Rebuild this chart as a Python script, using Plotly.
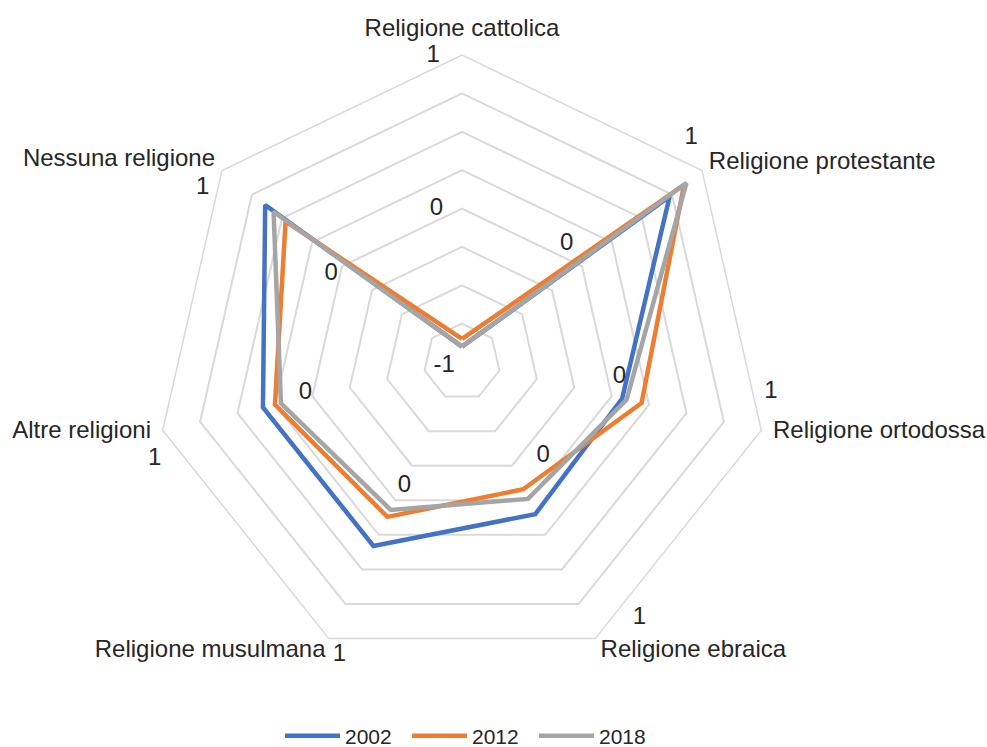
import plotly.graph_objects as go

# ---------------- data ----------------
categories = ["Religione cattolica", "Religione protestante", "Religione ortodossa",
              "Religione ebraica", "Religione musulmana", "Altre religioni", "Nessuna religione"]
years = ["2002", "2012", "2018"]
v2002 = [-0.90, 0.73, 0.07, 0.10, 0.33, 0.33, 0.64]
v2012 = [-0.85, 0.85, 0.20, -0.08, 0.12, 0.25, 0.47]
v2018 = [-0.90, 0.87, 0.10, -0.01, 0.07, 0.21, 0.57]
series = [v2002, v2012, v2018]

axis_min, axis_max, axis_step = -1, 1, 0.25

# value-axis labels as they appear around the web
tick_text = ["1", "0", "-1", "0", "1", "0", "1", "0", "1", "0", "1", "0", "1", "0", "1"]
# label placement (value units along radius, angle clockwise from top in degrees)
tick_r = [1.000, 0.012, -0.88, 0.026, 1.090, 0.030, 1.022, -0.190, 1.030,
          -0.110, 1.068, 0.040, 1.100, 0.027, 1.036]
tick_theta = [-5.4, -9.5, 256.0, 41.7, 45.6, 95.5, 95.6, 139.2, 145.3,
              204.9, 202.7, 258.9, 252.4, 304.0, 303.9]

# category label placement (same units)
cat_r = [1.162, 1.066, 1.077, 1.090, 1.080, 1.077, 1.079]
cat_theta = [0.0, 51.1, 102.7, 154.4, 205.3, 257.3, 309.3]
cat_pos = ["middle center", "middle right", "middle right", "middle right",
           "middle left", "middle left", "middle left"]

# ---------------- style ----------------
colors = ["#4472C4", "#ED7D31", "#A5A5A5"]
grid_color = "#D9D9D9"
text_color = "#262626"
font_family = "Liberation Sans, Arial, sans-serif"

W, H = 987, 747
cx, cy, R = 462, 362, 307          # centre and outer radius of the web (px)
label_max = 1.3                    # extended range for the label layer
R2 = R * (label_max - axis_min) / (axis_max - axis_min)

fig = go.Figure()
for name, vals, col in zip(years, series, colors):
    fig.add_trace(go.Scatterpolar(
        r=vals + vals[:1], theta=categories + categories[:1],
        mode="lines", name=name,
        line=dict(color=col, width=4.5),
        subplot="polar", hoverinfo="skip"))

fig.add_trace(go.Scatterpolar(
    r=tick_r, theta=tick_theta, mode="text", text=tick_text,
    textposition="middle center",
    textfont=dict(size=24, color=text_color, family=font_family),
    showlegend=False, subplot="polar2", hoverinfo="skip", cliponaxis=False))

fig.add_trace(go.Scatterpolar(
    r=cat_r, theta=cat_theta, mode="text", text=categories,
    textposition=cat_pos,
    textfont=dict(size=24, color=text_color, family=font_family),
    showlegend=False, subplot="polar2", hoverinfo="skip", cliponaxis=False))

fig.update_layout(
    width=W, height=H,
    margin=dict(l=0, r=0, t=0, b=0, autoexpand=False),
    paper_bgcolor="white", plot_bgcolor="white",
    font=dict(family=font_family, color=text_color, size=24),
    polar=dict(
        domain=dict(x=[(cx - R) / W, (cx + R) / W], y=[1 - (cy + R) / H, 1 - (cy - R) / H]),
        bgcolor="white",
        gridshape="linear",
        radialaxis=dict(range=[axis_min, axis_max], tick0=axis_min, dtick=axis_step,
                        showticklabels=False, ticks="", showline=False,
                        gridcolor=grid_color, gridwidth=1.5),
        angularaxis=dict(direction="clockwise", rotation=90,
                         categoryorder="array", categoryarray=categories,
                         showgrid=False, showline=True, linecolor=grid_color, linewidth=1.5,
                         ticks="", showticklabels=False),
    ),
    polar2=dict(
        domain=dict(x=[(cx - R2) / W, (cx + R2) / W], y=[1 - (cy + R2) / H, 1 - (cy - R2) / H]),
        bgcolor="rgba(0,0,0,0)",
        radialaxis=dict(range=[axis_min, label_max], visible=False),
        angularaxis=dict(direction="clockwise", rotation=90, visible=False),
    ),
    legend=dict(orientation="h", x=280 / W, xanchor="left", y=-0.013, yanchor="bottom",
                font=dict(size=21, color=text_color, family=font_family),
                itemwidth=55, entrywidth=57, entrywidthmode="pixels",
                bgcolor="rgba(0,0,0,0)"),
    showlegend=True,
)

fig.write_html("out.html", config={"displayModeBar": False},
               post_script="document.body.style.margin='0';")
